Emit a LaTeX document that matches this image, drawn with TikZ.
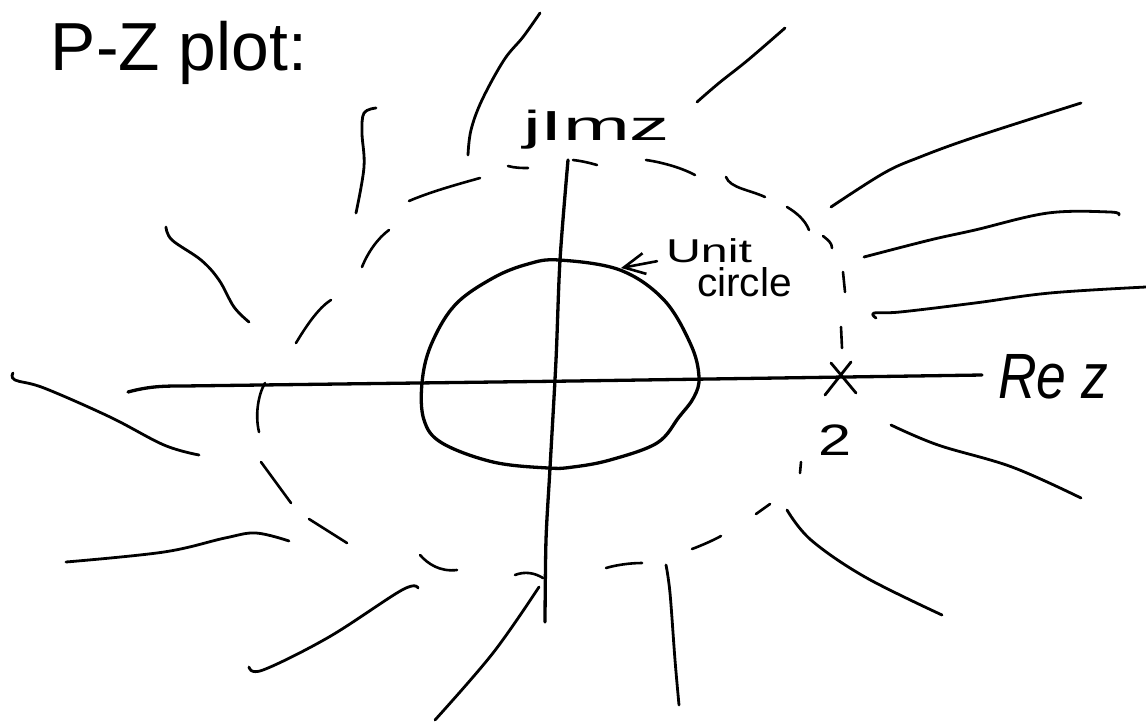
\documentclass[tikz,border=0pt]{standalone}
\usepackage{fontspec}
\usepackage{graphicx}
\setmainfont{Liberation Sans}
\usetikzlibrary{arrows.meta}
\tikzset{
  ink/.style={line width=2.8pt, line cap=round, line join=round, black},
  stroke/.style={ink, smooth, tension=0.6},
  dashpiece/.style={ink, line width=2.6pt},
  axisline/.style={ink, line width=3.3pt},
  lbl/.style={inner sep=0pt, outer sep=0pt, anchor=base west},
  pointer/.style={ink, line width=2.6pt, -{Straight Barb[length=21pt,width=21pt,line width=2.6pt]}}
}
\newcommand{\hw}[3]{{\fontsize{#1}{#1}\selectfont\resizebox{#2}{\height}{#3}}}
\begin{document}
\begin{tikzpicture}[x=1pt,y=-1pt]
\useasboundingbox (0,0) rectangle (1146,721);
\fill[white] (0,0) rectangle (1146,721);

% labels
\node[lbl] (title) at (51,70) {\hw{68pt}{256pt}{P-Z plot:}};
\node[lbl] (imlbl) at (523,140) {\hw{42pt}{147pt}{jImz}};
\node[lbl] (unitlbl) at (666,262) {\hw{33pt}{86pt}{Unit}};
\node[lbl] (circlelbl) at (697,296) {\hw{40pt}{95pt}{circle}};
\node[lbl] (relbl) at (998,398) {\hw{64pt}{110pt}{\itshape Re z}};
\node[lbl] (twolbl) at (818,455) {\hw{44pt}{33pt}{2}};

% axes
\draw[axisline] plot[smooth, tension=0.5] coordinates {(568,160) (560,260) (556,360) (550,468) (546,540) (545,622)};
\draw[axisline] (128,392) .. controls (150,386) and (165,386) .. (183,386) -- (573,381) -- (982,375);

% unit circle
\draw[axisline] plot[smooth cycle, tension=0.6] coordinates {
  (559,260) (620,270) (664,300) (691,345) (699,377) (694,397) (679,417) (657,443)
  (610,460) (573,467) (548,468) (493,462) (442,443) (424,420) (422,383) (431,345)
  (455,305) (493,278) (528,264)};

% pointer from label to unit circle
\coordinate (uc) at (621,268);
\draw[pointer] ([xshift=-9pt,yshift=-11pt]unitlbl.west) -- (uc);

% pole marker
\coordinate (pole) at (840,378);
\draw[ink, line width=2.8pt] ([shift={(-15,17)}]pole) -- ([shift={(11,-16)}]pole);
\draw[ink, line width=2.8pt] ([shift={(-9,-15)}]pole) -- ([shift={(16,15)}]pole);

% dashed circle (hand-drawn dashes)
\draw[dashpiece] (409,201) .. controls (430,192) and (455,185) .. (480,178);
\draw[dashpiece] (508,166) .. controls (515,168) and (522,168) .. (528,168);
\draw[dashpiece] (573,160) .. controls (582,161) and (590,163) .. (597,165);
\draw[dashpiece] (646,160) .. controls (660,162) and (680,167) .. (695,175);
\draw[dashpiece] (726,177) .. controls (730,188) and (750,190) .. (765,197);
\draw[dashpiece] (787,207) .. controls (797,213) and (805,220) .. (809,230);
\draw[dashpiece] (823,236) .. controls (828,240) and (832,243) .. (832,248);
\draw[dashpiece] (843,272) -- (845,292);
\draw[dashpiece] (841,327) -- (842,348);
\draw[dashpiece] (801,462) -- (800,473);
\draw[dashpiece] (770,504) -- (756,514);
\draw[dashpiece] (721,536) .. controls (712,541) and (700,546) .. (692,549);
\draw[dashpiece] (642,563) .. controls (630,563) and (616,565) .. (606,568);
\draw[dashpiece] (515,575) .. controls (525,571) and (535,573) .. (543,578);
\draw[dashpiece] (420,555) .. controls (428,564) and (440,572) .. (457,570);
\draw[dashpiece] (309,519) -- (347,543);
\draw[dashpiece] (261,462) -- (291,503);
\draw[dashpiece] (265,383) .. controls (258,395) and (255,415) .. (259,432);
\draw[dashpiece] (331,300) .. controls (318,308) and (305,328) .. (296,343);
\draw[dashpiece] (389,230) .. controls (378,238) and (368,252) .. (362,267);

% radiating strokes
\draw[stroke] plot coordinates {(468,155) (471,130) (482,100) (504,60) (523,37) (540,13)};
\draw[stroke] plot coordinates {(376,108) (364,113) (362,133) (364,167) (356,213)};
\draw[stroke] plot coordinates {(166,227) (172,240) (201,260) (219,280) (234,307) (249,322)};
\draw[stroke] plot coordinates {(697,102) (719,83) (748,60) (785,28)};
\draw[stroke] plot coordinates {(831,207) (884,173) (920,157) (975,137) (1081,103)};
\draw[stroke] plot coordinates {(864,257) (930,240) (975,230) (1048,213) (1110,212) (1119,215)};
\draw[stroke] plot coordinates {(876,318) (874,313) (900,312) (975,303) (1050,293) (1146,287)};
\draw[stroke] plot coordinates {(13,373) (15,380) (44,388) (110,417) (164,445) (199,455)};
\draw[stroke] plot coordinates {(66,562) (164,552) (225,538) (256,533) (289,541)};
\draw[stroke] plot coordinates {(249,667) (263,670) (329,637) (402,590) (418,588)};
\draw[stroke] plot coordinates {(435,720) (493,653) (539,587)};
\draw[stroke] plot coordinates {(666,565) (670,593) (675,660) (679,705)};
\draw[stroke] plot coordinates {(787,510) (811,540) (865,577) (942,615)};
\draw[stroke] plot coordinates {(891,425) (938,445) (1012,467) (1081,498)};
\end{tikzpicture}
\end{document}
